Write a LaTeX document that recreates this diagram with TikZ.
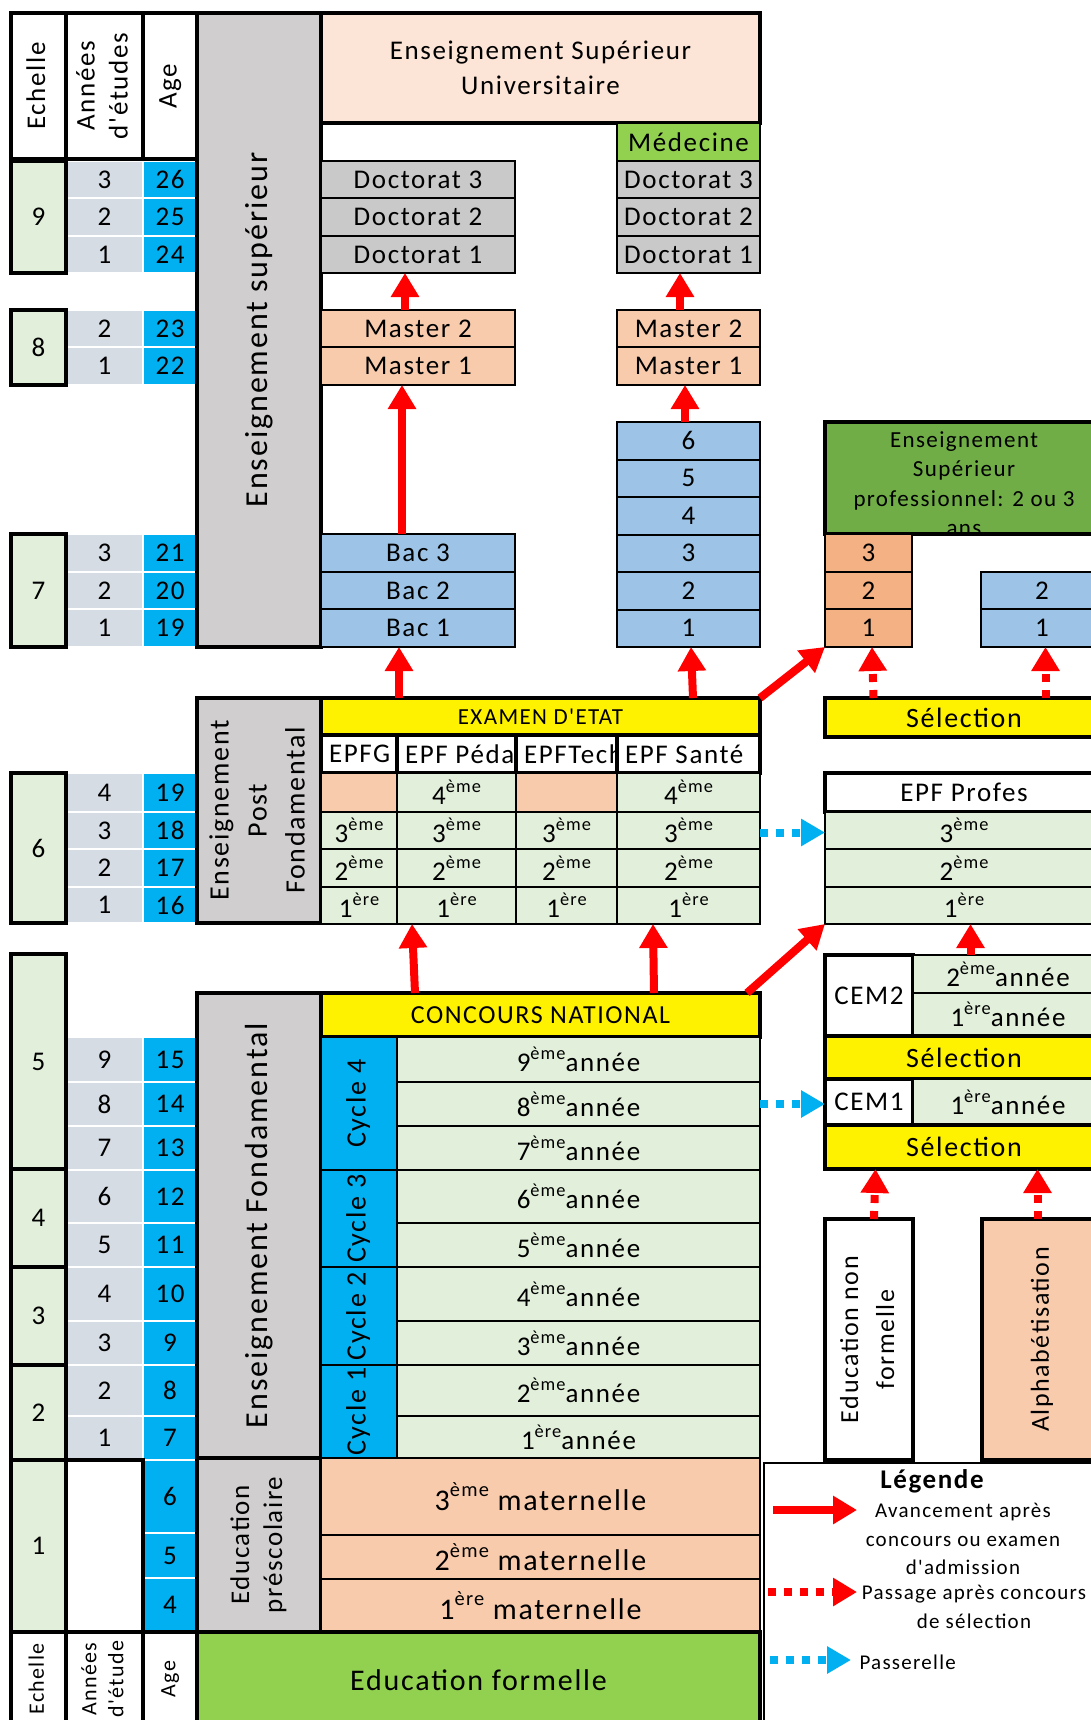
\documentclass[tikz,border=0pt]{standalone}
\usepackage{fontspec}
\setmainfont{Carlito}[LetterSpace=6,Ligatures=TeXOff]
\newfontfamily\plainfont{Carlito}[Ligatures=TeXOff]
\usepackage{graphicx}
\usetikzlibrary{arrows.meta}

\definecolor{scalegreen}{HTML}{E2EFDA}
\definecolor{yearblue}{HTML}{D6DCE4}
\definecolor{agecyan}{HTML}{00B0F0}
\definecolor{levelgray}{HTML}{D0CECE}
\definecolor{univpink}{HTML}{FCE4D6}
\definecolor{docgray}{HTML}{C9C9C9}
\definecolor{salmon}{HTML}{F8CBAD}
\definecolor{bacblue}{HTML}{9DC3E6}
\definecolor{medgreen}{HTML}{92D050}
\definecolor{progreen}{HTML}{70AD47}
\definecolor{proorange}{HTML}{F4B183}
\definecolor{arrowred}{HTML}{FF0000}

\newcommand\fsz[2]{\fontsize{#1}{#2}\selectfont}
\newcommand\vtxt[1]{\rotatebox{90}{\begin{tabular}{@{}c@{}}#1\end{tabular}}}
\newcommand\ordi[2]{#1\raisebox{.45em}{\scalebox{.68}{#2}}}
\newcommand\bx[7][]{\node[box,#1,minimum width={((#5)-(#3))*1pt},minimum height={((#6)-(#4))*1pt}] (#2) at ({#3},{#4}) {#7};}

\begin{document}
\begin{tikzpicture}[x=1pt,y=-1pt,
    box/.style={draw,line width=3.5pt,inner sep=0pt,outer sep=0pt,anchor=north west,align=center,font=\fsz{27}{33}},
    row/.style={box,line width=2pt},
    scalecell/.style={box,fill=scalegreen},
    graycol/.style={box,fill=levelgray},
    foot/.style={box,font=\fsz{22}{27}},
    yr/.style={anchor=north west,inner sep=0pt,outer sep=0pt,minimum width=77pt,fill=yearblue,draw=white,line width=1.5pt,font=\fsz{27}{33}},
    ag/.style={yr,minimum width=54pt,fill=agecyan},
    adv/.style={line width=8pt,arrowred,-{Triangle[width=27pt,length=24pt]}},
    sel/.style={adv,dash pattern=on 8pt off 8pt},
    link/.style={line width=8pt,agecyan,dash pattern=on 8pt off 8pt,-{Triangle[width=26pt,length=24pt]}}]

\clip (0,0) rectangle (1091,1720);

% years and ages
\foreach \b/\t/\u/\n/\a in {9/161/198/3/26,9/198/236/2/25,9/236/273/1/24,
    8/310/347/2/23,8/347/385/1/22,
    7/534/572/3/21,7/572/609/2/20,7/609/647/1/19,
    6/773/812/4/19,6/812/849/3/18,6/849/887/2/17,6/887/923/1/16,
    5/1037/1082/9/15,5/1082/1126/8/14,5/1126/1170/7/13,
    4/1170/1223/6/12,4/1223/1267/5/11,
    3/1267/1321/4/10,3/1321/1365/3/9,
    2/1365/1416/2/8,2/1416/1460/1/7}
  {\node[yr,minimum height={(\u-\t)*1pt}] (y\b-\n) at (66,\t) {\n};
   \node[ag,minimum height={(\u-\t)*1pt}] (g\b-\n) at (143,\t) {\a};}
\foreach \t/\u/\a in {1460/1533/6,1533/1578/5,1578/1632/4}
  {\node[ag,minimum height={(\u-\t)*1pt}] (g1-\a) at (143,\t) {\a};}

% scale
\bx{hech}{11}{13}{66}{159}{\vtxt{Echelle}}
\bx{hann}{66}{13}{143}{159}{\vtxt{Années\\d'études}}
\bx{hage}{143}{13}{197}{159}{\vtxt{Age}}
\bx[scalecell]{e9}{11}{161}{66}{273}{9}
\bx[scalecell]{e8}{11}{310}{66}{385}{8}
\bx[scalecell]{e7}{11}{534}{66}{647}{7}
\bx[scalecell]{e6}{11}{773}{66}{923}{6}
\bx[scalecell]{e5}{11}{954}{66}{1169}{5}
\bx[scalecell]{e4}{11}{1169}{66}{1267}{4}
\bx[scalecell]{e3}{11}{1267}{66}{1365}{3}
\bx[scalecell]{e2}{11}{1365}{66}{1460}{2}
\bx[scalecell]{e1}{11}{1460}{66}{1632}{1}
\bx{a1}{66}{1460}{143}{1632}{}
\bx[foot]{fech}{11}{1632}{66}{1726}{\vtxt{Echelle}}
\bx[foot]{fann}{66}{1632}{143}{1726}{\vtxt{Années\\d'étude}}
\bx[foot]{fage}{143}{1632}{197}{1726}{\vtxt{Age}}

% levels
\bx[graycol,font=\fsz{32}{40}]{ensup}{197}{13}{321}{647}{\vtxt{Enseignement supérieur}}
\bx[graycol,font=\fsz{28}{38}]{postf}{197}{698}{321}{923}{\vtxt{Enseignement\\Post\\Fondamental}}
\bx[graycol,font=\fsz{32}{40}]{fond}{197}{993}{321}{1458}{\vtxt{Enseignement Fondamental}}
\bx[graycol]{presc}{197}{1458}{321}{1632}{\vtxt{Education\\préscolaire}}

% university
\bx[fill=univpink,font=\fsz{27}{35}]{univ}{321}{13}{760}{123}{Enseignement Supérieur\\Universitaire}
\bx[row,fill=docgray]{dl3}{321}{161}{515}{198}{Doctorat 3}
\bx[row,fill=docgray]{dl2}{321}{198}{515}{236}{Doctorat 2}
\bx[row,fill=docgray]{dl1}{321}{236}{515}{273}{Doctorat 1}
\bx[row,fill=salmon]{ml2}{321}{310}{515}{347}{Master 2}
\bx[row,fill=salmon]{ml1}{321}{347}{515}{385}{Master 1}
\bx[row,fill=bacblue]{b3}{321}{534}{515}{572}{Bac 3}
\bx[row,fill=bacblue]{b2}{321}{572}{515}{609}{Bac 2}
\bx[row,fill=bacblue]{b1}{321}{609}{515}{647}{Bac 1}
\bx[row,fill=medgreen]{med}{617}{123}{760}{161}{Médecine}
\bx[row,fill=docgray]{dm3}{617}{161}{760}{198}{Doctorat 3}
\bx[row,fill=docgray]{dm2}{617}{198}{760}{236}{Doctorat 2}
\bx[row,fill=docgray]{dm1}{617}{236}{760}{273}{Doctorat 1}
\bx[row,fill=salmon]{mm2}{617}{310}{760}{347}{Master 2}
\bx[row,fill=salmon]{mm1}{617}{347}{760}{385}{Master 1}
\foreach \n [count=\i, evaluate=\i as \t using 422+(\i-1)*37.5] in {6,5,4,3,2,1}
  {\bx[row,fill=bacblue]{s\n}{617}{\t}{760}{\t+37.5}{\n}}

% professional
\bx[fill=progreen]{pro}{825}{422}{1103}{534}{}
\begin{scope}
  \clip (pro.north west) rectangle ([yshift=2pt]pro.south east);
  \node[font=\fsz{23}{29.5},align=center] (protxt) at ([yshift=-5.5pt]pro.center) {Enseignement\\Supérieur\\professionnel: 2 ou 3\\ans};
\end{scope}
\bx[row,fill=proorange]{po3}{825}{534}{912}{572}{3}
\bx[row,fill=proorange]{po2}{825}{572}{912}{609}{2}
\bx[row,fill=proorange]{po1}{825}{609}{912}{647}{1}
\bx[row,fill=bacblue]{pb2}{981}{572}{1103}{609}{2}
\bx[row,fill=bacblue]{pb1}{981}{609}{1103}{647}{1}
\bx[fill=yellow,font=\fsz{28}{33}]{selA}{825}{698}{1103}{737}{Sélection}

% post fondamental
\bx[fill=yellow,font=\fsz{23}{28}]{exam}{321}{698}{760}{735}{EXAMEN D'ETAT}
\bx[fill=white]{h1}{321}{735}{397}{773}{\hbox to 60pt{EPFG\hss}}
\bx[fill=white]{h2}{397}{735}{516}{773}{\hbox to 103pt{EPF Péda\hss}}
\bx[fill=white]{h3}{516}{735}{617}{773}{\hbox to 85pt{EPFTech\hss}}
\bx[fill=white]{h4}{617}{735}{760}{773}{\hbox to 127pt{EPF Santé\hss}}
\bx[row,fill=salmon]{p1-4}{321}{773}{397}{812}{}
\bx[row,fill=scalegreen]{p2-4}{397}{773}{516}{812}{\ordi{4}{ème}}
\bx[row,fill=salmon]{p3-4}{516}{773}{617}{812}{}
\bx[row,fill=scalegreen]{p4-4}{617}{773}{760}{812}{\ordi{4}{ème}}
\foreach \r/\t/\u/\o in {3/812/849/ème,2/849/887/ème,1/887/924/ère}
  {\foreach \c/\xa/\xb in {1/321/397,2/397/516,3/516/617,4/617/760}
    {\bx[row,fill=scalegreen]{p\c-\r}{\xa}{\t}{\xb}{\u}{\ordi{\r}{\o}}}}
\bx[fill=white]{pfh}{825}{773}{1103}{812}{EPF Profes}
\foreach \r/\t/\u/\o in {3/812/849/ème,2/849/887/ème,1/887/924/ère}
  {\bx[row,fill=scalegreen]{pf\r}{825}{\t}{1103}{\u}{\ordi{\r}{\o}}}

% CEM
\bx[fill=white]{cem2}{825}{955}{913}{1036}{CEM2}
\bx[row,fill=scalegreen]{c2y2}{913}{955}{1103}{993}{\ordi{2}{ème}année}
\bx[row,fill=scalegreen]{c2y1}{913}{993}{1103}{1036}{\ordi{1}{ère}année}
\bx[fill=yellow,font=\fsz{28}{33}]{selB}{825}{1036}{1103}{1079}{Sélection}
\bx[fill=white]{cem1}{825}{1079}{913}{1125}{CEM1}
\bx[row,fill=scalegreen]{c1y1}{913}{1079}{1103}{1125}{\ordi{1}{ère}année}
\bx[fill=yellow,font=\fsz{28}{33}]{selC}{825}{1125}{1103}{1169}{Sélection}
\bx[fill=white,font=\fsz{26}{36}]{nonf}{825}{1219}{913}{1460}{\vtxt{Education non\\formelle}}
\bx[fill=salmon,font=\fsz{26}{32}]{alpha}{982}{1219}{1103}{1460}{\vtxt{Alphabétisation}}

% fondamental
\bx[fill=yellow,font=\fsz{26}{32}]{conc}{321}{993}{760}{1037}{CONCOURS NATIONAL}
\bx[row,fill=agecyan,font=\fsz{28}{33}]{cy4}{321}{1037}{397}{1170}{\vtxt{Cycle 4}}
\bx[row,fill=agecyan,font=\fsz{28}{33}]{cy3}{321}{1170}{397}{1267}{\vtxt{Cycle 3}}
\bx[row,fill=agecyan,font=\fsz{28}{33}]{cy2}{321}{1267}{397}{1365}{\vtxt{Cycle 2}}
\bx[row,fill=agecyan,font=\fsz{28}{33}]{cy1}{321}{1365}{397}{1458}{\vtxt{Cycle 1}}
\foreach \n/\t/\u in {9/1037/1082,8/1082/1126,7/1126/1170,6/1170/1223,5/1223/1267,
    4/1267/1321,3/1321/1365,2/1365/1416,1/1416/1458}
  {\bx[row,fill=scalegreen]{yf\n}{397}{\t}{760}{\u}{\ordi{\n}{\ifnum\n=1 ère\else ème\fi}année}}

% prescolaire
\bx[row,fill=salmon,font=\fsz{30}{35}]{mat3}{321}{1458}{760}{1535}{\ordi{3}{ème} maternelle}
\bx[row,fill=salmon,font=\fsz{30}{35}]{mat2}{321}{1535}{760}{1579}{\ordi{2}{ème} maternelle}
\bx[row,fill=salmon,font=\fsz{30}{35}]{mat1}{321}{1579}{760}{1632}{\ordi{1}{ère} maternelle}
\bx[fill=medgreen,font=\fsz{30}{35}]{formal}{197}{1632}{760}{1728}{Education formelle}

% legend
\bx[line width=1.5pt,fill=white]{legend}{764}{1463}{1103}{1730}{}
\node[font=\bfseries\fsz{27}{32}] (lgtitle) at (932,1481) {Légende};
\node[font=\fsz{21}{28.5},align=center] (lgadv) at (963,1539) {Avancement après\\concours ou examen\\d'admission};
\node[font=\fsz{21}{28.5},align=center] (lgsel) at (974,1607) {Passage après concours\\de sélection};
\node[font=\fsz{21}{28.5},anchor=west] (lgpass) at (856,1662) {Passerelle};
\coordinate (la1) at (773,1510); \coordinate (la2) at (857,1510);
\coordinate (lb1) at (768,1592); \coordinate (lb2) at (857,1592);
\coordinate (lc1) at (770,1660); \coordinate (lc2) at (851,1660);

% arrows
\path[adv]
  ([xshift=-13pt]ml2.north) edge ([xshift=-13pt]dl1.south)
  ([xshift=-16pt]b3.north) edge ([xshift=-16pt]ml1.south)
  ([xshift=-141.5pt]exam.north) edge ([xshift=-19pt]b1.south)
  ([xshift=-8.5pt]mm2.north) edge ([xshift=-8.5pt]dm1.south)
  ([xshift=-3.5pt]s6.north) edge ([xshift=-3.5pt]mm1.south)
  ([xshift=152.5pt]exam.north) edge ([xshift=2.5pt]s1.south)
  (exam.north east) edge (po1.south west)
  ([xshift=-125.5pt]conc.north) edge ([xshift=-44.5pt]p2-1.south)
  ([xshift=113.5pt]conc.north) edge ([xshift=-35.5pt]p4-1.south)
  ([xshift=-13pt]conc.north east) edge (pf1.south west)
  ([xshift=-37.5pt]c2y2.north) edge ([xshift=6.5pt]pf1.south)
  (la1) edge (la2);
\path[sel]
  ([xshift=-90.5pt]selA.north) edge ([xshift=3.5pt]po1.south)
  ([xshift=81.5pt]selA.north) edge ([xshift=3.5pt]pb1.south)
  ([xshift=5pt]nonf.north) edge ([xshift=-88.5pt]selC.south)
  ([xshift=-5pt]alpha.north) edge ([xshift=73.5pt]selC.south)
  (lb1) edge (lb2);
\path[link]
  ([yshift=-2pt]p4-3.east) edge ([yshift=-2pt]pf3.west)
  (yf8.east) edge (yf8.east -| cem1.west)
  (lc1) edge (lc2);
\end{tikzpicture}
\end{document}
